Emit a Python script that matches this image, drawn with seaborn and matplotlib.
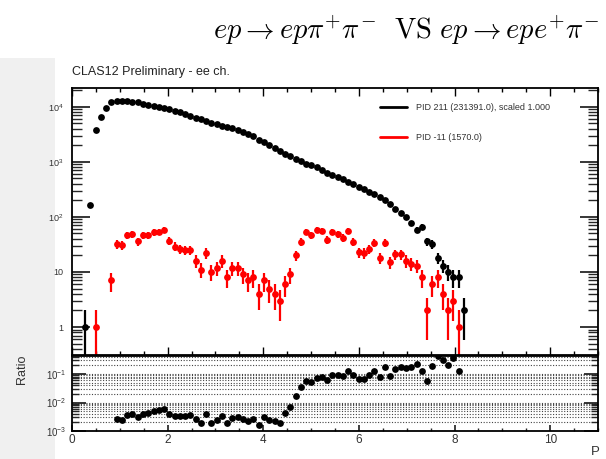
import numpy as np
import pandas as pd
import matplotlib
matplotlib.use("Agg")
import matplotlib.pyplot as plt
import seaborn as sns
from matplotlib.lines import Line2D
from matplotlib.patches import Rectangle
from matplotlib.ticker import FixedLocator, FixedFormatter, MultipleLocator, NullFormatter, LogLocator

# ---------------- data (histogram: 100 bins over P in [0, 11]) ----------------
n_bins = 100
p_range = (0.0, 11.0)

pion_first_bin = 2
pion_counts = [1, 165, 3800, 6600, 9500, 12200, 12600, 12600,
               12600, 12300, 12000, 11500, 11000, 10500, 10000, 9550, 9120, 8510,
               7940, 7410, 6760, 6310, 5890, 5500, 5130, 4790, 4570, 4270,
               4070, 3800, 3550, 3240, 2950, 2510, 2290, 2040, 1780, 1580,
               1410, 1260, 1150, 1020, 933, 871, 794, 708, 631, 575,
               525, 479, 437, 389, 347, 316, 288, 257, 229, 200,
               170, 141, 117, 100, 77, 58, 65, 36, 32, 18,
               13, 10, 8, 8, 2]

positron_first_bin = 4
positron_counts = [1, 0, 0, 7, 32, 31, 47, 48, 36, 46,
                   46, 53, 54, 58, 37, 29, 26, 25, 25, 16,
                   11, 22, 10, 12, 16, 8, 12, 12, 9, 7,
                   8, 4, 7, 5, 4, 3, 6, 9, 20, 35,
                   54, 46, 58, 56, 38, 54, 48, 42, 56, 35,
                   23, 22, 26, 34, 18, 34, 15, 21, 21, 16,
                   14, 13, 8, 2, 6, 8, 4, 2, 3, 1]

top_yticks = [1, 10, 100, 1000, 10000]
top_yticklabels = ["1", "10", r"$\mathregular{10^{2}}$", r"$\mathregular{10^{3}}$", r"$\mathregular{10^{4}}$"]
ratio_yticks = [1e-3, 1e-2, 1e-1]
ratio_yticklabels = [r"$\mathregular{10^{-3}}$", r"$\mathregular{10^{-2}}$", r"$\mathregular{10^{-1}}$"]
xticks = [0, 2, 4, 6, 8, 10]
xticklabels = ["0", "2", "4", "6", "8", "10"]

legend_labels = ["PID 211 (231391.0), scaled 1.000", "PID -11 (1570.0)"]
series_colors = ["black", "red"]
title = r"$ep \rightarrow ep\pi^{+}\pi^{-}\ \ \mathrm{VS}\ ep \rightarrow epe^{+}\pi^{-}$"
subtitle = "CLAS12 Preliminary - ee ch."
ratio_label = "Ratio"
x_label = "P"

# ---------------- build tables ----------------
edges = np.linspace(p_range[0], p_range[1], n_bins + 1)
centers = 0.5 * (edges[:-1] + edges[1:])

pion = np.zeros(n_bins)
pion[pion_first_bin:pion_first_bin + len(pion_counts)] = pion_counts
positron = np.zeros(n_bins)
positron[positron_first_bin:positron_first_bin + len(positron_counts)] = positron_counts

df_pi = pd.DataFrame({"P": centers, "N": pion})
df_pi = df_pi[df_pi.N > 0]
df_e = pd.DataFrame({"P": centers, "N": positron})
df_e = df_e[df_e.N > 0]
mask = (pion > 0) & (positron > 0)
df_ratio = pd.DataFrame({"P": centers[mask], "ratio": positron[mask] / pion[mask]})

# ---------------- style ----------------
sns.set_theme(style="ticks")
plt.rcParams["font.family"] = ["Liberation Sans", "DejaVu Sans"]
plt.rcParams["mathtext.fontset"] = "custom"
plt.rcParams["mathtext.rm"] = "Liberation Sans"
plt.rcParams["mathtext.it"] = "Liberation Sans:italic"
plt.rcParams["mathtext.default"] = "it"

W, H = 606, 459
fig = plt.figure(figsize=(W / 100, H / 100), dpi=100)
fig.patch.set_facecolor("white")
fig.add_artist(Rectangle((0, 0), 55 / W, (H - 58) / H, transform=fig.transFigure,
                         facecolor="#f0f0f0", edgecolor="none", zorder=-10))

ax = fig.add_axes([72 / W, 1 - 355 / H, 526 / W, 267 / H])
ax2 = fig.add_axes([72 / W, 1 - 431 / H, 526 / W, 75 / H])

txt_color = "#333333"
ms = 24

# ---------------- top panel ----------------
ax.set_yscale("log")
for df, col in [(df_pi, series_colors[0]), (df_e, series_colors[1])]:
    err = np.sqrt(df.N.values)
    lo = np.minimum(err, df.N.values - 1e-3)
    ax.errorbar(df.P, df.N, yerr=[lo, err], fmt="none", ecolor=col,
                elinewidth=1.6, capsize=0, zorder=2)
    sns.scatterplot(data=df, x="P", y="N", ax=ax, color=col, s=ms,
                    linewidth=0, legend=False, zorder=3)

ax.set_xlim(0, 11)
ax.set_ylim(0.31, 22000)
ax.set_xlabel("")
ax.set_ylabel("")
ax.xaxis.set_major_locator(FixedLocator(xticks))
ax.xaxis.set_minor_locator(MultipleLocator(0.5))
ax.yaxis.set_major_locator(FixedLocator(top_yticks))
ax.yaxis.set_major_formatter(FixedFormatter(top_yticklabels))
ax.yaxis.set_minor_locator(LogLocator(base=10, subs=np.arange(2, 10), numticks=20))
ax.yaxis.set_minor_formatter(NullFormatter())
ax.tick_params(axis="x", which="both", direction="in", top=True, bottom=True,
               labelbottom=False, color="black")
ax.tick_params(axis="x", which="major", length=6, width=1.0)
ax.tick_params(axis="x", which="minor", length=3, width=1.0)
ax.tick_params(axis="y", which="both", direction="in", left=True, right=True,
               labelsize=6.5, labelcolor=txt_color, pad=6)
ax.tick_params(axis="y", which="major", length=13, width=1.3)
ax.tick_params(axis="y", which="minor", length=7, width=1.0)
for s in ax.spines.values():
    s.set_linewidth(1.3)
    s.set_color("black")

handles = [Line2D([], [], color=c, lw=2) for c in series_colors]
ax.legend(handles, legend_labels, loc="upper left", bbox_to_anchor=(0.5856, 0.945),
          frameon=False, fontsize=6.5, labelspacing=2.4, handlelength=3.0,
          handletextpad=1.0, borderpad=0, borderaxespad=0, labelcolor=txt_color)

# ---------------- ratio panel ----------------
ax2.set_yscale("log")
sns.scatterplot(data=df_ratio, x="P", y="ratio", ax=ax2, color="black", s=ms,
                linewidth=0, legend=False, zorder=3)
ax2.set_xlim(0, 11)
ax2.set_ylim(1e-3, 0.43)
ax2.set_xlabel("")
ax2.set_ylabel("")
ax2.xaxis.set_major_locator(FixedLocator(xticks))
ax2.xaxis.set_major_formatter(FixedFormatter(xticklabels))
ax2.xaxis.set_minor_locator(MultipleLocator(0.5))
ax2.yaxis.set_major_locator(FixedLocator(ratio_yticks))
ax2.yaxis.set_major_formatter(FixedFormatter(ratio_yticklabels))
ax2.yaxis.set_minor_locator(LogLocator(base=10, subs=np.arange(2, 10), numticks=20))
ax2.yaxis.set_minor_formatter(NullFormatter())
ax2.yaxis.grid(True, which="both", linestyle=(0, (1, 1.5)), color="#444444", linewidth=0.8)
ax2.tick_params(axis="x", which="both", direction="in", top=False, bottom=True,
                labelsize=8.5, labelcolor=txt_color, pad=2)
ax2.tick_params(axis="x", which="major", length=4)
ax2.tick_params(axis="x", which="minor", length=2)
ax2.tick_params(axis="y", which="both", direction="in", left=True, right=True,
                labelsize=7, labelcolor=txt_color, pad=4)
ax2.tick_params(axis="y", which="major", length=10, width=1.3)
ax2.tick_params(axis="y", which="minor", length=5, width=1.0)
for s in ax2.spines.values():
    s.set_linewidth(1.3)
    s.set_color("black")

# ---------------- texts ----------------
fig.text(406 / W, 1 - 30 / H, title, ha="center", va="center", fontsize=20.5,
         math_fontfamily="cm", color="black")
fig.text(72 / W, 1 - 72 / H, subtitle, ha="left", va="center", fontsize=9, color="#222222")
fig.text(22 / W, 1 - 369 / H, ratio_label, ha="center", va="center", rotation=90,
         fontsize=9, color=txt_color)
fig.text(595 / W, 1 - 452 / H, x_label, ha="center", va="center", fontsize=9.5, color=txt_color)

fig.savefig("out.png", dpi=100, facecolor=fig.get_facecolor())
